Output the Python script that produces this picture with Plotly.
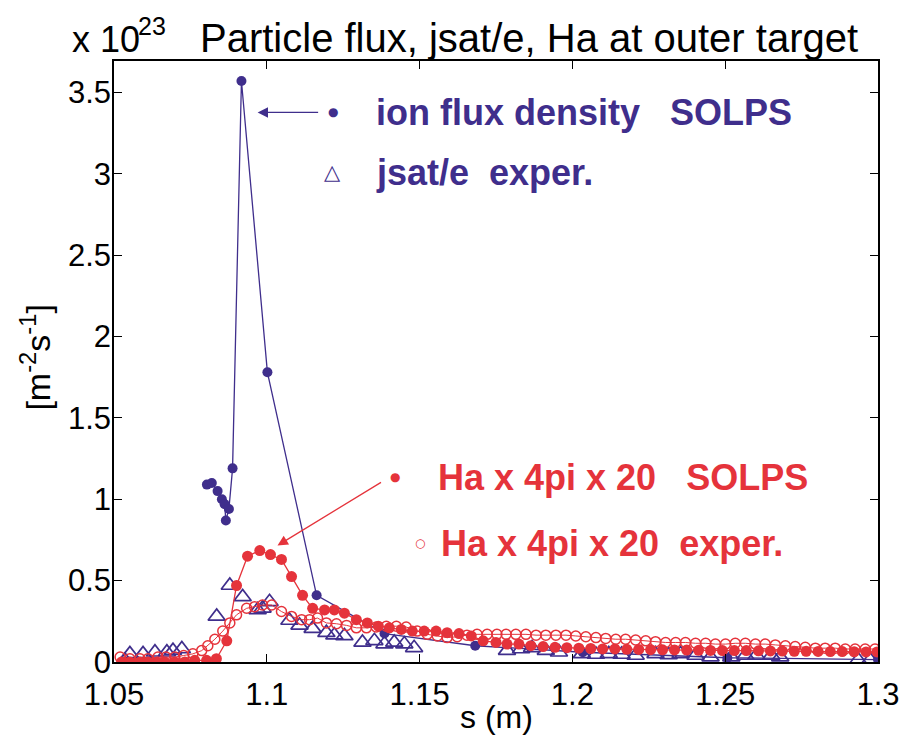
import plotly.graph_objects as go

# ---------------- data ----------------
# ion flux density, SOLPS (units of 1e23 m^-2 s^-1)
solps_s = [1.0804, 1.0820, 1.0839, 1.0853, 1.0862, 1.0866, 1.0876, 1.0888, 1.0917,
           1.1002, 1.1163, 1.1385, 1.1682, 1.2034, 1.2507, 1.3000]
solps_flux = [1.09, 1.10, 1.05, 1.00, 0.97, 0.87, 0.94, 1.19, 3.57,
              1.78, 0.41, 0.175, 0.10, 0.06, 0.026, 0.015]

# jsat/e experiment
jsat_s = [1.0536, 1.0552, 1.0595, 1.0634, 1.0673, 1.0693, 1.0722,
          1.0836, 1.0879, 1.0921, 1.0970, 1.0986, 1.1009, 1.1074, 1.1107, 1.1150,
          1.1195, 1.1221, 1.1254, 1.1313, 1.1352, 1.1385, 1.1417, 1.1450, 1.1482,
          1.1786, 1.1832, 1.1868, 1.1913, 1.1956, 1.2031, 1.2077, 1.2119, 1.2161,
          1.2207, 1.2272, 1.2315, 1.2354, 1.2403, 1.2452, 1.2520, 1.2566, 1.2602,
          1.2651, 1.2680, 1.2935, 1.2974]
jsat_val = [0.01, 0.05, 0.05, 0.06, 0.06, 0.07, 0.08,
            0.28, 0.47, 0.40, 0.32, 0.33, 0.37, 0.255, 0.225, 0.205,
            0.18, 0.165, 0.16, 0.12, 0.13, 0.11, 0.12, 0.11, 0.087,
            0.07, 0.08, 0.087, 0.07, 0.06, 0.05, 0.046, 0.05, 0.046,
            0.04, 0.05, 0.044, 0.05, 0.04, 0.03, 0.03, 0.04, 0.04,
            0.04, 0.03, 0.013, 0.013]

# Ha x 4pi x 20, SOLPS
ha_solps_s = [1.0525, 1.0552, 1.0585, 1.0611, 1.0640, 1.0666, 1.0699, 1.0732, 1.0764, 1.0803,
              1.0835, 1.0869, 1.0901, 1.0937, 1.0977, 1.1012, 1.1048, 1.1081, 1.1117, 1.1150,
              1.1189, 1.1221, 1.1254, 1.1293, 1.1329, 1.1365, 1.1401, 1.1440, 1.1476, 1.1515,
              1.1554, 1.1590, 1.1629, 1.1669, 1.1708, 1.1750, 1.1786, 1.1825, 1.1864, 1.1904,
              1.1943, 1.1982, 1.2021, 1.2060, 1.2099, 1.2139, 1.2178, 1.2217, 1.2256, 1.2295,
              1.2334, 1.2374, 1.2413, 1.2452, 1.2491, 1.2530, 1.2569, 1.2609, 1.2648, 1.2687,
              1.2726, 1.2765, 1.2804, 1.2844, 1.2883, 1.2922, 1.2961, 1.2997]
ha_solps_val = [0.00, 0.00, 0.00, 0.00, 0.00, 0.00, 0.00, 0.00, 0.01, 0.01,
                0.02, 0.13, 0.47, 0.65, 0.685, 0.66, 0.63, 0.525, 0.41, 0.33,
                0.32, 0.32, 0.30, 0.26, 0.24, 0.22, 0.21, 0.20, 0.19, 0.19,
                0.19, 0.18, 0.175, 0.16, 0.13, 0.12, 0.11, 0.11, 0.10, 0.095,
                0.09, 0.088, 0.085, 0.083, 0.08, 0.08, 0.078, 0.077, 0.076, 0.075,
                0.074, 0.073, 0.072, 0.071, 0.07, 0.07, 0.07, 0.069, 0.068, 0.067,
                0.066, 0.066, 0.065, 0.064, 0.064, 0.063, 0.062, 0.062]

# Ha x 4pi x 20, experiment
ha_exp_s = [1.0520, 1.0552, 1.0585, 1.0611, 1.0644, 1.0670, 1.0699, 1.0728, 1.0758, 1.0787,
            1.0807, 1.0830, 1.0856, 1.0879, 1.0901, 1.0934, 1.0960, 1.0986, 1.1016, 1.1048,
            1.1081, 1.1114, 1.1140, 1.1166, 1.1195, 1.1228, 1.1261, 1.1293, 1.1326, 1.1358,
            1.1391, 1.1424, 1.1456, 1.1492, 1.1525, 1.1558, 1.1590, 1.1623, 1.1655, 1.1688,
            1.1721, 1.1753, 1.1783, 1.1815, 1.1848, 1.1881, 1.1913, 1.1946, 1.1979, 1.2011,
            1.2044, 1.2077, 1.2109, 1.2142, 1.2174, 1.2207, 1.2240, 1.2272, 1.2305, 1.2338,
            1.2370, 1.2403, 1.2436, 1.2468, 1.2501, 1.2533, 1.2566, 1.2599, 1.2631, 1.2664,
            1.2697, 1.2729, 1.2762, 1.2795, 1.2827, 1.2860, 1.2893, 1.2925, 1.2958, 1.2990]
ha_exp_val = [0.03, 0.02, 0.02, 0.02, 0.03, 0.03, 0.03, 0.04, 0.05, 0.07,
              0.10, 0.14, 0.19, 0.24, 0.29, 0.33, 0.34, 0.35, 0.35, 0.31,
              0.28, 0.26, 0.26, 0.27, 0.24, 0.235, 0.225, 0.21, 0.21, 0.215,
              0.22, 0.22, 0.215, 0.19, 0.17, 0.16, 0.15, 0.155, 0.165, 0.17,
              0.17, 0.17, 0.17, 0.17, 0.17, 0.165, 0.165, 0.165, 0.165, 0.16,
              0.155, 0.15, 0.145, 0.14, 0.14, 0.135, 0.13, 0.125, 0.12, 0.12,
              0.12, 0.115, 0.115, 0.11, 0.11, 0.115, 0.115, 0.11, 0.11, 0.105,
              0.10, 0.095, 0.09, 0.085, 0.085, 0.085, 0.08, 0.08, 0.08, 0.08]

x_ticks = [1.05, 1.1, 1.15, 1.2, 1.25, 1.3]
x_tick_labels = ["1.05", "1.1", "1.15", "1.2", "1.25", "1.3"]
y_ticks = [0, 0.5, 1, 1.5, 2, 2.5, 3, 3.5]
y_tick_labels = ["0", "0.5", "1", "1.5", "2", "2.5", "3", "3.5"]

# ---------------- style ----------------
BLUE = "#3F2E8C"
RED = "#E5333B"
FONT = "Liberation Sans, Arial, Helvetica, sans-serif"

fig = go.Figure()

fig.add_trace(go.Scatter(
    x=solps_s, y=solps_flux, mode="lines+markers",
    line=dict(color=BLUE, width=1.3),
    marker=dict(color=BLUE, size=10, symbol="circle"),
    showlegend=False))

fig.add_trace(go.Scatter(
    x=jsat_s, y=jsat_val, mode="markers",
    marker=dict(color=BLUE, size=15, symbol="triangle-up-open", line=dict(width=1.7, color=BLUE)),
    showlegend=False))

fig.add_trace(go.Scatter(
    x=ha_solps_s, y=ha_solps_val, mode="lines+markers",
    line=dict(color=RED, width=1.3),
    marker=dict(color=RED, size=11, symbol="circle"),
    showlegend=False))

fig.add_trace(go.Scatter(
    x=ha_exp_s, y=ha_exp_val, mode="lines+markers",
    line=dict(color=RED, width=1.0),
    marker=dict(color=RED, size=10, symbol="circle-open", line=dict(width=1.5, color=RED)),
    showlegend=False))

nb = "\u00a0"
annotations = [
    # title and exponent
    dict(text="Particle flux, jsat/e, Ha at outer target", xref="paper", yref="paper",
         x=0.543, y=1.0, yshift=-1, xanchor="center", yanchor="bottom",
         showarrow=False, font=dict(size=40, color="black", family=FONT)),
    dict(text="x" + nb + "10", xref="paper", yref="paper",
         x=-0.057, y=1.0, yshift=-1, xanchor="left", yanchor="bottom",
         showarrow=False, font=dict(size=36, color="black", family=FONT)),
    dict(text="23", xref="paper", yref="paper",
         x=0.030, y=1.034, xanchor="left", yanchor="bottom", borderpad=0,
         showarrow=False, font=dict(size=25, color="black", family=FONT)),
    # axis labels
    dict(text="[m<sup>-2</sup>s<sup>-1</sup>]", xref="paper", yref="paper",
         x=-0.103, y=0.507, xanchor="center", yanchor="middle", textangle=-90,
         showarrow=False, font=dict(size=34, color="black", family=FONT)),
    dict(text="s (m)", xref="paper", yref="paper",
         x=0.5, y=-0.092, xanchor="center", yanchor="middle",
         showarrow=False, font=dict(size=32, color="black", family=FONT)),
    # key texts
    dict(text="ion flux density" + nb * 3 + "SOLPS", xref="paper", yref="paper",
         x=0.3407, y=0.9146, xanchor="left", yanchor="middle", showarrow=False,
         font=dict(size=36, color=BLUE, family=FONT, weight="bold")),
    dict(text="jsat/e" + nb * 2 + "exper.", xref="paper", yref="paper",
         x=0.3407, y=0.8147, xanchor="left", yanchor="middle", showarrow=False,
         font=dict(size=36, color=BLUE, family=FONT, weight="bold")),
    dict(text="Ha x 4pi x 20" + nb * 3 + "SOLPS", xref="paper", yref="paper",
         x=0.4217, y=0.3071, xanchor="left", yanchor="middle", showarrow=False,
         font=dict(size=36, color=RED, family=FONT, weight="bold")),
    dict(text="Ha x 4pi x 20" + nb * 2 + "exper.", xref="paper", yref="paper",
         x=0.4256, y=0.1972, xanchor="left", yanchor="middle", showarrow=False,
         font=dict(size=36, color=RED, family=FONT, weight="bold")),
    # key symbols
    dict(text="\u25cf", xref="paper", yref="paper", x=0.2872, y=0.9146,
         xanchor="center", yanchor="middle", showarrow=False,
         font=dict(size=12, color=BLUE, family="DejaVu Sans")),
    dict(text="\u25b3", xref="paper", yref="paper", x=0.2859, y=0.8147,
         xanchor="center", yanchor="middle", showarrow=False,
         font=dict(size=21, color=BLUE, family="DejaVu Sans")),
    dict(text="\u25cf", xref="paper", yref="paper", x=0.3681, y=0.3071,
         xanchor="center", yanchor="middle", showarrow=False,
         font=dict(size=12, color=RED, family="DejaVu Sans")),
    dict(text="\u25cb", xref="paper", yref="paper", x=0.4008, y=0.1972,
         xanchor="center", yanchor="middle", showarrow=False,
         font=dict(size=12, color=RED, family="DejaVu Sans")),
    # arrows
    dict(text="", x=1.0970, y=3.377, xref="x", yref="y", ax=62, ay=0,
         showarrow=True, arrowhead=2, arrowsize=1.6, arrowwidth=1.3, arrowcolor=BLUE),
    dict(text="", x=1.1035, y=0.716, xref="x", yref="y", ax=105, ay=-64,
         showarrow=True, arrowhead=2, arrowsize=1.6, arrowwidth=1.3, arrowcolor=RED),
]

axis_common = dict(showline=True, linecolor="black", linewidth=1.5, mirror="ticks",
                   ticks="inside", ticklen=8, tickwidth=1.3, tickcolor="black",
                   showgrid=False, zeroline=False,
                   tickfont=dict(size=31, color="black", family=FONT))

# the page adds an 8 px body margin, so the figure is 8 px smaller than the window
fig.update_layout(
    width=904, height=735,
    margin=dict(l=106, r=32, t=53, b=81),
    paper_bgcolor="white", plot_bgcolor="white",
    xaxis=dict(range=[1.05, 1.3], tickvals=x_ticks, ticktext=x_tick_labels,
               ticklabelstandoff=4, **axis_common),
    yaxis=dict(range=[0, 3.693], tickvals=y_ticks, ticktext=y_tick_labels,
               ticklabelstandoff=-5, **axis_common),
    annotations=annotations,
)

fig.write_html("out.html")
